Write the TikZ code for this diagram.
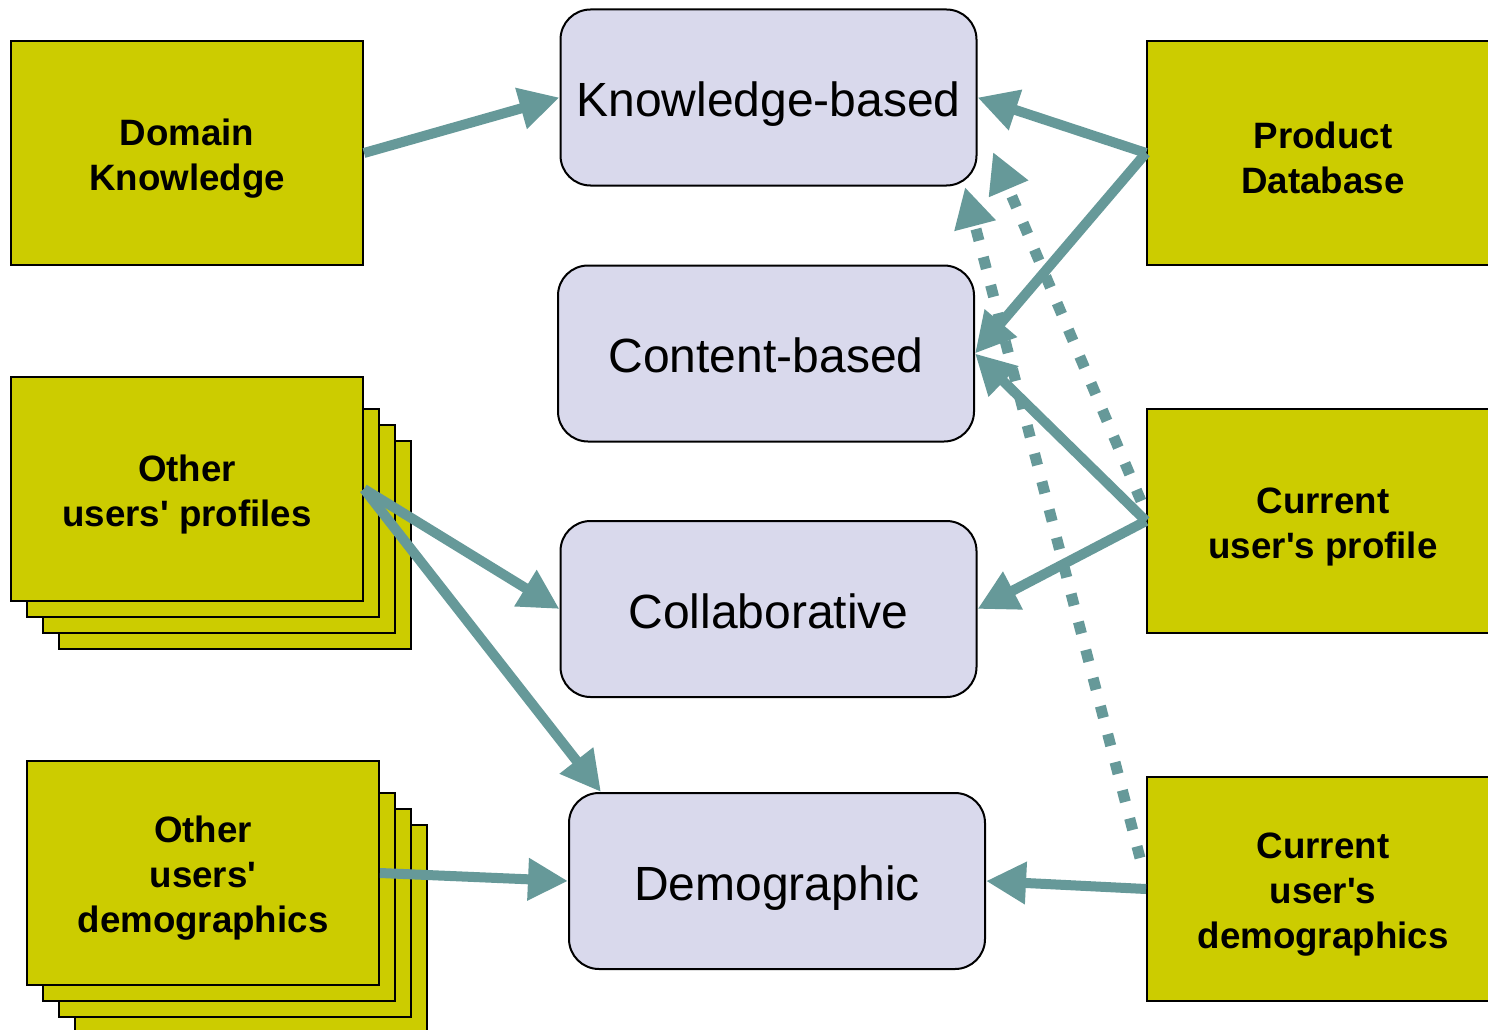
\documentclass[tikz,border=0pt]{standalone}
\usepackage{fontspec}
\setmainfont{Liberation Sans}
\usetikzlibrary{arrows.meta,calc}
\definecolor{srcyellow}{RGB}{204,204,0}
\definecolor{methodlav}{RGB}{217,217,236}
\definecolor{flowteal}{RGB}{102,153,153}
\newcommand{\apos}{\textquotesingle}
% strut that lowers the block of source text a little
\newcommand{\toppad}{\rule{0pt}{37pt}}
\tikzset{
  src/.style={draw=black, line width=2pt, fill=srcyellow, minimum width=352pt,
    minimum height=224pt, inner sep=0pt, align=center,
    font=\bfseries\fontsize{36.7}{45}\selectfont},
  layer/.style={draw=black, line width=2pt, fill=srcyellow},
  method/.style={draw=black, line width=2pt, fill=methodlav, rounded corners=30pt,
    minimum width=416pt, minimum height=176pt, inner sep=0pt,
    text height=48pt, text depth=10pt,
    font=\fontsize{48}{56}\selectfont},
  flow/.style={draw=flowteal, line width=10pt,
    -{Triangle[length=40pt,width=40pt]}},
  hint/.style={draw=flowteal, line width=11pt, dash pattern=on 12pt off 17pt,
    -{Triangle[length=40pt,width=40pt]}}
}
\begin{document}
\begin{tikzpicture}[x=1pt,y=-1pt]
\clip (0,0) rectangle (1488,1030);
\fill[white] (0,0) rectangle (1488,1030);

% stacked sheets behind the "other users" sources
\draw[layer] (59,441) rectangle (411,649);
\draw[layer] (43,425) rectangle (395,633);
\draw[layer] (27,409) rectangle (379,617);
\draw[layer] (75,825) rectangle (427,1033);
\draw[layer] (59,809) rectangle (411,1017);
\draw[layer] (43,793) rectangle (395,1001);

% knowledge sources
\node[src] (dom) at (187,153) {\toppad Domain\\Knowledge};
\node[src] (oup) at (187,489) {\toppad Other\\users\apos{} profiles};
\node[src] (oud) at (203,873) {\toppad Other\\users\apos\\demographics};
\node[src] (pdb) at (1323,153) {\toppad Product\\Database};
\node[src] (cup) at (1323,521) {\toppad Current\\user\apos s profile};
\node[src] (cud) at (1323,889) {\toppad Current\\user\apos s\\demographics};

% recommendation techniques
\node[method] (kb) at (768.5,97.5) {Knowledge-based};
\node[method] (cb) at (766,353.5) {Content-based};
\node[method] (co) at (768.5,609) {Collaborative};
\node[method] (de) at (777,881) {Demographic};

% data flows
\draw[flow] (dom.east) -- (kb.west);
\draw[flow] (pdb.west) -- (kb.east);
\draw[flow] (pdb.west) -- (cb.east);
\draw[flow] (cup.west) -- (cb.east);
\draw[flow] (cup.west) -- (co.east);
\draw[flow] (oup.east) -- (co.west);
\draw[flow] (oup.east) -- ($(de.north west)+(33,0)$);
\draw[flow] (oud.east) -- (de.west);
\draw[flow] (cud.west) -- (de.east);

% optional inputs to the knowledge-based approach
\coordinate (kbin1) at (993,152);
\coordinate (kbin2) at (965,187);
\draw[hint] ($(cup.west)+(-5,-20)$) -- (kbin1);
\draw[hint] ($(cud.west)+(-6,-31)$) -- (kbin2);
\end{tikzpicture}
\end{document}
